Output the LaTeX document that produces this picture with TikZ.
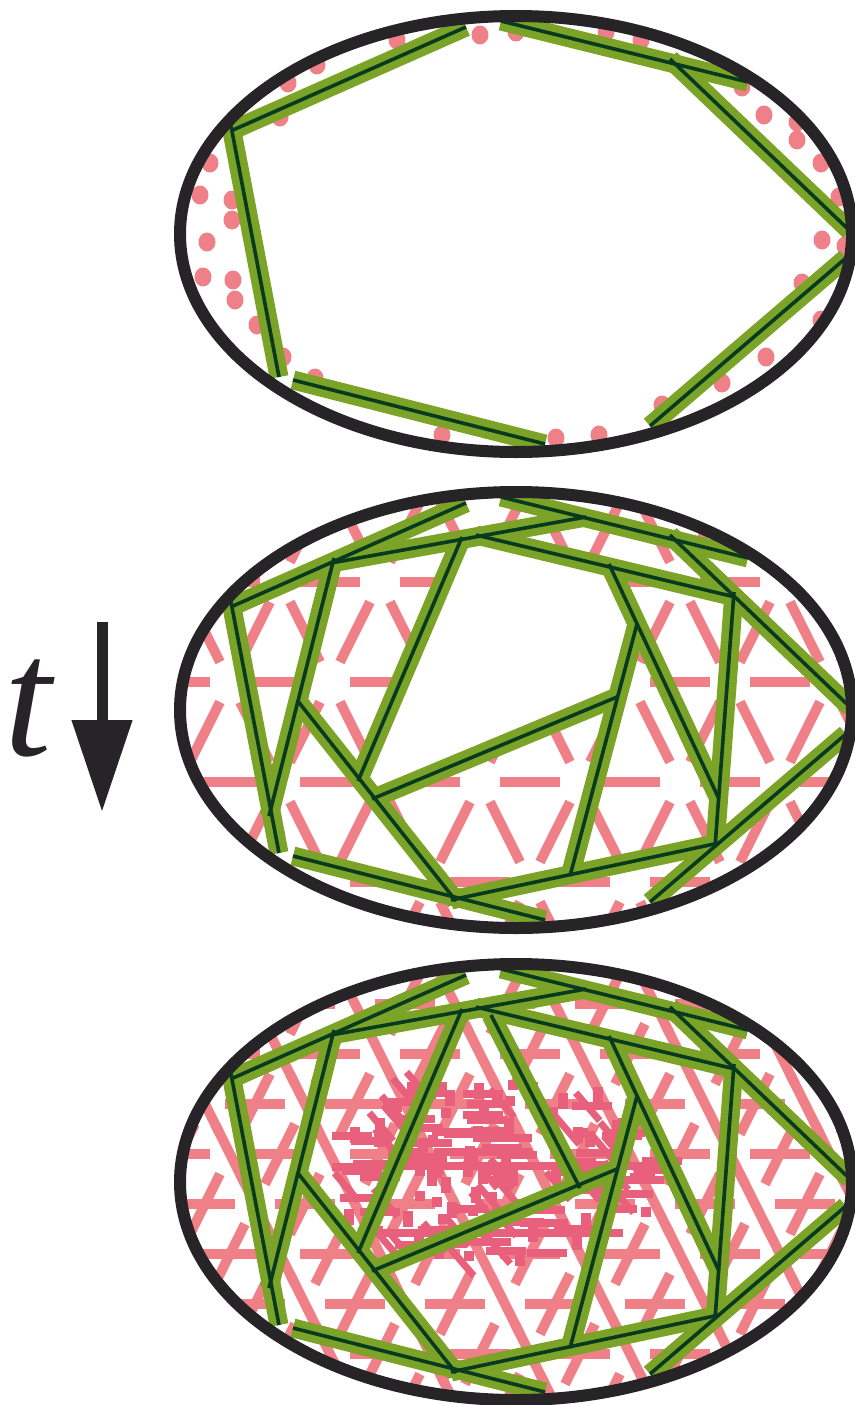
\documentclass[tikz,border=0pt]{standalone}
\usepackage{fontspec}
\newfontfamily\timefont{Liberation Serif}
\usetikzlibrary{arrows.meta}
\definecolor{rodgreen}{RGB}{122,163,40}
\definecolor{roddark}{RGB}{8,58,32}
\definecolor{netpink}{RGB}{240,128,136}
\definecolor{corepink}{RGB}{232,96,124}
\definecolor{rimgray}{RGB}{38,36,38}
\tikzset{
  rimline/.style={draw=rimgray,line width=12pt},
  rodbody/.style={draw=rodgreen,line width=19pt},
  rodcore/.style={draw=roddark,line width=3.6pt},
  netdash/.style={draw=netpink,line width=10pt},
  pinkdot/.style={fill=netpink},
}
\newcommand\rimpath{(516,234) ellipse [x radius=336,y radius=218]}
\newcommand\ringrods[1]{%
  \draw[#1] (233,130) -- (466,27);
  \draw[#1] (231,126) -- (279,377);
  \draw[#1] (501,21) -- (748,82);
  \draw[#1] (670,59) -- (850,231);
  \draw[#1] (846,258) -- (650,426);
  \draw[#1] (293,380) -- (545,444);
}
\newcommand\webrods[1]{%
  \draw[#1] (334,82) -- (269,340);
  \draw[#1] (331,87) -- (586,41);
  \draw[#1] (476,59) -- (735,121);
  \draw[#1] (734,116) -- (715,371);
  \draw[#1] (719,367) -- (451,424);
  \draw[#1] (297,224) -- (456,425);
  \draw[#1] (609,88) -- (719,323);
  \draw[#1] (462,61) -- (358,305);
  \draw[#1] (637,148) -- (570,400);
  \draw[#1] (617,221) -- (372,323);
}
\newcommand\pinknet{%
  \foreach \j in {0,...,4}{
    \foreach \i in {0,...,8}{
      \pgfmathsetmacro\xv{30+100*\i+50*mod(\j,2)}
      \pgfmathsetmacro\yv{6+100*\j}
      \draw[netdash] (\xv+20,\yv) -- (\xv+80,\yv);
      \draw[netdash] (\xv+10,\yv+20) -- (\xv+40,\yv+80);
      \draw[netdash] (\xv-10,\yv+20) -- (\xv-40,\yv+80);
    }
  }%
}
\begin{document}
\begin{tikzpicture}[x=1pt,y=-1pt,line join=round]
  \useasboundingbox (0,0) rectangle (854,1405);
  % first stage
  \foreach \x/\y in {288/83,317/65,397/40,480/35,210/163,200/195,232/200,232/220,207/242,203/277,233/280,235/300,257/325,283/357,315/378,442/435,280/117,516/32,606/32,641/40,742/87,764/115,797/122,797/140,821/163,839/197,822/240,845/246,802/283,821/320,766/357,722/383,662/405,599/435,556/438}
    \fill[pinkdot] (\x,\y) ellipse [x radius=8.5,y radius=9.5];
  \ringrods{rodbody}
  \ringrods{rodcore}
  \draw[rimline] \rimpath;
  % second stage
  \begin{scope}[shift={(0,476)}]
    \begin{scope}
      \clip \rimpath;
      \pinknet
    \end{scope}
    \fill[white] (462,63) -- (611,91) -- (638,151) -- (617,222) -- (375,321) -- (359,302) -- cycle;
    \ringrods{rodbody}
    \webrods{rodbody}
    \ringrods{rodcore}
    \webrods{rodcore}
    \draw[rimline] \rimpath;
  \end{scope}
  % third stage
  \begin{scope}[shift={(0,948)}]
    \begin{scope}
      \clip \rimpath;
      \pinknet
      \begin{scope}[shift={(25,50)}]
        \pinknet
      \end{scope}
      \fill[corepink] (373,214) rectangle (650,222);
      \fill[corepink] (383,281) rectangle (623,289);
      \pgfmathsetseed{11}
      \foreach \k in {1,...,170}{
        \pgfmathsetmacro\ang{360*rnd}
        \pgfmathsetmacro\rad{sqrt(rnd)}
        \pgfmathsetmacro\cx{495+170*\rad*cos(\ang)}
        \pgfmathsetmacro\cy{222+95*\rad*sin(\ang)}
        \pgfmathtruncatemacro\kind{random(0,3)}
        \ifcase\kind
          \fill[corepink] (\cx-5,\cy-8) rectangle (\cx+5,\cy+8);
        \or
          \fill[corepink] (\cx-5,\cy-5) rectangle (\cx+5,\cy+5);
        \or
          \fill[corepink] (\cx-20,\cy-4) rectangle (\cx+20,\cy+4);
        \or
          \draw[corepink,line width=7pt] (\cx-12,\cy-14) -- (\cx+12,\cy+14);
        \fi
      }
    \end{scope}
    \ringrods{rodbody}
    \webrods{rodbody}
    \draw[rodbody] (491,67) -- (580,240);
    \ringrods{rodcore}
    \webrods{rodcore}
    \draw[rodcore] (491,67) -- (580,240);
    \draw[rimline] \rimpath;
  \end{scope}
  % time arrow
  \coordinate (arrow top) at (102,622);
  \coordinate (arrow tip) at (102,812);
  \draw[rimgray,line width=11pt,-{Triangle[length=92pt,width=58pt]}] (arrow top) -- (arrow tip);
  \node[anchor=base west,inner sep=0pt,text=rimgray,font=\timefont\itshape\fontsize{170}{170}\selectfont] (time) at (4,755) {t};
\end{tikzpicture}
\end{document}
